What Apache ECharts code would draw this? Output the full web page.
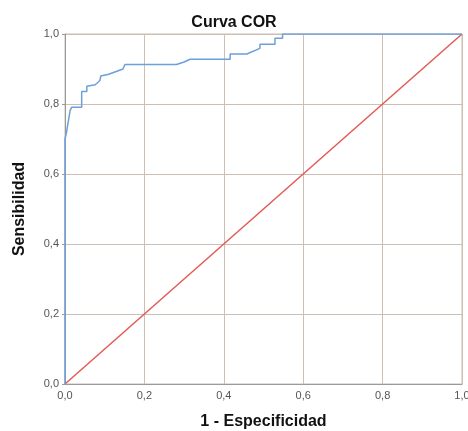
<!DOCTYPE html>
<html>
<head>
<meta charset="utf-8">
<script src="https://cdn.jsdelivr.net/npm/echarts@6/dist/echarts.min.js"></script>
<style>html,body{margin:0;padding:0;background:#fff}#c{width:468px;height:431px}</style>
</head>
<body>
<div id="c"></div>
<script>
const rocX = [0, 0, 0.003, 0.013, 0.017, 0.042, 0.042, 0.055, 0.055, 0.076, 0.080, 0.088, 0.090, 0.110, 0.146, 0.151, 0.281, 0.300, 0.315, 0.416, 0.416, 0.458, 0.491, 0.491, 0.529, 0.529, 0.548, 0.548, 1.0];
const rocY = [0, 0.700, 0.715, 0.782, 0.791, 0.791, 0.836, 0.836, 0.851, 0.855, 0.860, 0.867, 0.880, 0.885, 0.900, 0.913, 0.913, 0.920, 0.928, 0.928, 0.943, 0.943, 0.959, 0.971, 0.971, 0.988, 0.988, 1.0, 1.0];
const refX = [0, 1];
const refY = [0, 1];
const title = 'Curva COR';
const xName = '1 - Especificidad';
const yName = 'Sensibilidad';

const chart = echarts.init(document.getElementById('c'));
const fmt = v => v.toFixed(1).replace('.', ',');
const gridLine = {show: true, lineStyle: {color: '#cdbfb3', width: 1}};
chart.setOption({
  animation: false,
  title: {text: title, left: 'center', top: 10, textStyle: {fontFamily: 'Liberation Sans', fontWeight: 'bold', fontSize: 16, color: '#111'}},
  grid: {left: 65, right: 6, top: 34, bottom: 47, outerBoundsMode: 'none', containLabel: false, show: true, borderColor: '#c9bdb2', borderWidth: 1},
  xAxis: {
    type: 'value', min: 0, max: 1, interval: 0.2,
    name: xName, nameLocation: 'middle', nameGap: 30,
    nameTextStyle: {fontFamily: 'Liberation Sans', fontWeight: 'bold', fontSize: 16, color: '#111'},
    axisLine: {show: true, lineStyle: {color: '#9a9a9a'}},
    axisTick: {show: false},
    axisLabel: {formatter: fmt, fontFamily: 'Liberation Sans', fontSize: 11, color: '#555', margin: 6},
    splitLine: gridLine
  },
  yAxis: {
    type: 'value', min: 0, max: 1, interval: 0.2,
    name: yName, nameLocation: 'middle', nameGap: 37,
    nameTextStyle: {fontFamily: 'Liberation Sans', fontWeight: 'bold', fontSize: 16, color: '#111'},
    axisLine: {show: true, lineStyle: {color: '#9a9a9a'}},
    axisTick: {show: true, length: 3, lineStyle: {color: '#9a9a9a'}},
    axisLabel: {formatter: fmt, fontFamily: 'Liberation Sans', fontSize: 11, color: '#555', margin: 6},
    splitLine: gridLine
  },
  series: [
    {type: 'line', data: refX.map((x, i) => [x, refY[i]]), symbol: 'none', lineStyle: {color: '#e25a55', width: 1.5}, z: 2},
    {type: 'line', data: rocX.map((x, i) => [x, rocY[i]]), symbol: 'none', lineStyle: {color: '#6d9fd9', width: 1.5}, z: 3}
  ]
});
</script>
</body>
</html>
